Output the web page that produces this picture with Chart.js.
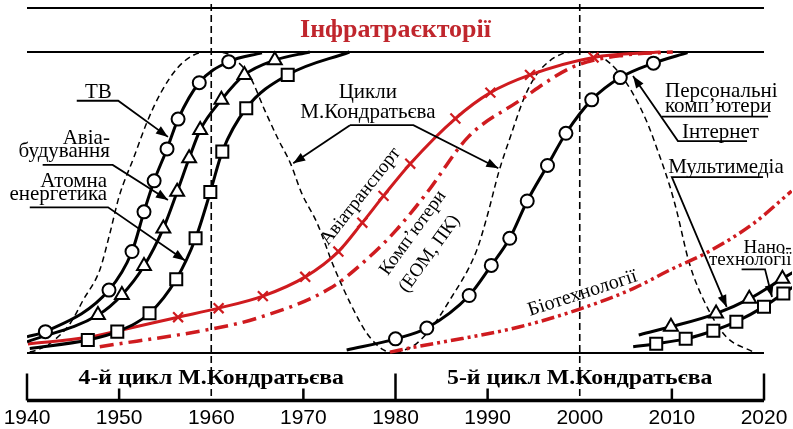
<!DOCTYPE html>
<html>
<head>
<meta charset="utf-8">
<script src="https://cdn.jsdelivr.net/npm/chart.js@4"></script>
<style>
  html, body { margin: 0; padding: 0; background: #fff; }
  #wrap { width: 793px; height: 429px; }
</style>
</head>
<body>
<div id="wrap"><canvas id="infraChart" width="793" height="429"></canvas></div>
<script>
// ---- data: [year, level %] ----
const cycle4 = [[1940.3, 0.3], [1941.1, 1.0], [1942.5, 3.2], [1944.7, 9.9], [1946.1, 17.6], [1947.9, 27.6], [1949.0, 39.8],
  [1950.0, 52.0], [1951.6, 65.0], [1953.0, 76.5], [1954.5, 86.3], [1956.3, 94.6], [1958.1, 99.0], [1959.5, 100],
  [1961.5, 99.7], [1962.4, 98.0], [1964.2, 91.8], [1965.8, 80.7], [1967.3, 70.8], [1968.6, 63.0], [1969.8, 53.2],
  [1971.5, 43.1], [1973.3, 28.7], [1975.1, 16.5], [1976.9, 6.5], [1978.7, 1.0], [1980.0, 0]];
const cycle5 = [[1980.0, 0], [1982.0, 2.5], [1983.7, 7.6], [1985.9, 17.6], [1988.8, 34.0], [1990.0, 46.0], [1991.2, 60.0],
  [1992.6, 73.0], [1994.0, 85.0], [1995.2, 92.0], [1996.4, 96.2], [1998.0, 99.3], [1999.5, 100], [2001.0, 100],
  [2003.3, 96.2], [2005.1, 89.6], [2007.2, 77.4], [2008.7, 65.2], [2009.8, 55.2], [2010.5, 47.5], [2011.9, 29.8],
  [2013.8, 15.4], [2015.9, 5.4], [2018.8, 0.4]];

const tv = [[1940.0, 5.4], [1942.0, 7.1], [1948.9, 20.9], [1951.4, 33.7], [1952.7, 46.9], [1953.8, 57.2], [1955.2, 67.8],
  [1956.4, 77.7], [1958.7, 89.8], [1961.9, 96.8], [1965.5, 99.7]];
const aviaBuild = [[1940.0, 3.7], [1947.7, 12.6], [1950.3, 19.3], [1952.7, 28.9], [1954.8, 41.4], [1956.3, 53.6],
  [1957.6, 64.7], [1958.8, 74.1], [1961.1, 84.1], [1963.6, 92.4], [1966.9, 97.3], [1970.7, 100]];
const nuclear = [[1940.3, 1.5], [1946.6, 4.3], [1949.8, 7.1], [1953.3, 13.2], [1956.2, 24.5], [1958.3, 38.1],
  [1959.9, 53.5], [1961.2, 66.9], [1963.8, 81.3], [1968.3, 92.4], [1975.0, 100]];
const aviaTransport = [[1940.1, 3.0], [1946.6, 5.2], [1949.8, 7.3], [1956.4, 11.9], [1960.8, 14.9], [1965.6, 18.9],
  [1970.2, 25.3], [1973.8, 33.7], [1976.4, 43.3], [1978.7, 52.2], [1981.6, 62.9], [1986.5, 77.9], [1990.3, 86.5],
  [1994.6, 92.4], [2001.5, 98.2], [2008.7, 100]];
const computers = [[1947.9, 2.1], [1959.9, 7.9], [1964.9, 11.5], [1972.9, 21.5], [1977.2, 32.0], [1980.1, 40.9],
  [1983.4, 53.2], [1987.9, 71.8], [1993.3, 83.5], [1999.3, 95.1], [2005.0, 99.0], [2010.1, 100]];
const personalPc = [[1974.7, 1.0], [1980.0, 4.7], [1983.4, 8.3], [1988.0, 19.1], [1990.4, 29.1], [1992.4, 38.1],
  [1994.3, 50.5], [1996.5, 62.3], [1998.5, 73.0], [2001.3, 84.1], [2004.4, 91.5], [2008.0, 96.3], [2011.7, 99.8]];
const biotech = [[1979.4, 0.3], [1982.3, 2.1], [1987.4, 4.9], [1993.5, 8.7], [2000.0, 14.6], [2005.8, 21.4],
  [2009.8, 27.6], [2013.7, 33.2], [2018.8, 42.9], [2023.0, 53.8]];
const multimedia = [[2006.4, 6.0], [2009.9, 8.7], [2014.8, 13.1], [2018.4, 18.0], [2022.0, 24.7], [2023.2, 26.9]];
const nano = [[2005.8, 2.1], [2008.3, 3.1], [2011.5, 4.7], [2014.5, 7.4], [2017.0, 10.4], [2020.0, 15.4],
  [2022.1, 19.8], [2023.2, 22.0]];

const tickYears = [1940, 1950, 1960, 1970, 1980, 1990, 2000, 2010, 2020];
const cycleBounds = [1940, 1980, 2020];
const cycleNames = ['4-й цикл М.Кондратьєва', '5-й цикл М.Кондратьєва'];
const dashedYears = [1960, 2000];
const chartTitle = 'Інфратраєкторії';

const RED = '#cf1b1f';
const SERIF = '"Liberation Serif", "Times New Roman", serif';

// text labels, placed in data units [year, level]
const notes = [
  { t: 'ТВ', at: [1946.3, 84.7], align: 'left' },
  { t: 'Авіа-', at: [1949.0, 69.4], align: 'right' },
  { t: 'будування', at: [1949.0, 65.0], align: 'right' },
  { t: 'Атомна', at: [1948.7, 55.2], align: 'right' },
  { t: 'енергетика', at: [1948.7, 50.8], align: 'right' },
  { t: 'Цикли', at: [1977.0, 84.6], align: 'center' },
  { t: 'М.Кондратьєва', at: [1977.0, 78.0], align: 'center' },
  { t: 'Персональні', at: [2009.25, 85.1], align: 'left' },
  { t: 'комп’ютери', at: [2009.25, 80.2], align: 'left' },
  { t: 'Інтернет', at: [2011.1, 71.3], align: 'left' },
  { t: 'Мультимедіа', at: [2009.6, 59.7], align: 'left' },
  { t: 'Нано-', at: [2023.0, 33.2], align: 'right', size: 19 },
  { t: 'технології', at: [2023.0, 29.2], align: 'right', size: 19 },
  { t: 'Авіатранспорт', at: [1976.2, 52.0], align: 'center', rot: -52, size: 19, mid: true },
  { t: 'Комп’ютери', at: [1981.9, 39.9], align: 'center', rot: -54, size: 19, mid: true },
  { t: '(ЕОМ, ПК)', at: [1983.7, 32.9], align: 'center', rot: -54, size: 19, mid: true },
  { t: 'Біотехнології', at: [2000.3, 19.8], align: 'center', rot: -18, size: 20, mid: true },
];

// leader lines, last point gets an arrowhead when arrow is set
const leaders = [
  { pts: [[1945.4, 83.8], [1949.9, 83.8], [1955.3, 71.8]], arrow: true },
  { pts: [[1941.7, 62.5], [1949.3, 62.5], [1955.3, 50.8]], arrow: true },
  { pts: [[1940.3, 48.4], [1948.8, 48.4], [1957.15, 30.7]], arrow: true },
  { pts: [[1975.06, 75.7], [1968.9, 63.0]], arrow: true },
  { pts: [[1975.06, 75.7], [1981.94, 75.7], [1991.16, 61.4]], arrow: true },
  { pts: [[2018.16, 70.4], [2010.66, 70.4], [2005.78, 92.0]], arrow: true },
  { pts: [[2008.93, 78.5], [2020.44, 78.5]] },
  { pts: [[2019.9, 58.4], [2010.0, 58.4], [2015.95, 15.3]], arrow: true },
  { pts: [[2017.57, 27.8], [2020.11, 27.8], [2020.87, 18.6]], arrow: true },
];

function segment(ctx, x1, y1, x2, y2) {
  ctx.beginPath(); ctx.moveTo(x1, y1); ctx.lineTo(x2, y2); ctx.stroke();
}

function arrowHead(ctx, fx, fy, tx, ty) {
  const a = Math.atan2(ty - fy, tx - fx), len = 12, half = 4.5;
  ctx.beginPath();
  ctx.moveTo(tx, ty);
  ctx.lineTo(tx - len * Math.cos(a) + half * Math.sin(a), ty - len * Math.sin(a) - half * Math.cos(a));
  ctx.lineTo(tx - len * Math.cos(a) - half * Math.sin(a), ty - len * Math.sin(a) + half * Math.cos(a));
  ctx.closePath(); ctx.fill();
}

const framePlugin = {
  id: 'frame',
  beforeDatasetsDraw(chart) {
    const { ctx, scales: { x, y } } = chart;
    const X = v => x.getPixelForValue(v), Y = v => y.getPixelForValue(v);
    const x0 = X(cycleBounds[0]), x1 = X(cycleBounds[cycleBounds.length - 1]);
    ctx.save();
    ctx.strokeStyle = '#000';
    ctx.lineWidth = 2;
    [y.max, 100, 0].forEach(v => segment(ctx, x0, Y(v) + (v === y.max ? 1 : 0), x1, Y(v) + (v === y.max ? 1 : 0)));
    // dashed decade lines
    ctx.lineWidth = 1.6;
    ctx.setLineDash([7, 4]);
    dashedYears.forEach(yr => segment(ctx, X(yr), 4, X(yr), Y(y.min)));
    ctx.setLineDash([]);
    // bottom time axis
    const base = Y(y.min) - 1.5;
    ctx.lineWidth = 3.5;
    segment(ctx, x0, base, x1, base);
    ctx.lineWidth = 2.5;
    tickYears.forEach(yr => {
      if (dashedYears.includes(yr)) return;
      const tall = cycleBounds.includes(yr);
      segment(ctx, X(yr), base, X(yr), tall ? base - 27 : base - 12);
    });
    ctx.fillStyle = '#000';
    ctx.font = '21px "Liberation Sans", Arial, sans-serif';
    ctx.textAlign = 'center';
    ctx.textBaseline = 'middle';
    tickYears.forEach(yr => ctx.fillText(String(yr), X(yr), base + 18));
    ctx.font = 'bold 22px ' + SERIF;
    ctx.textBaseline = 'alphabetic';
    cycleNames.forEach((n, i) => {
      ctx.save();
      ctx.translate((X(cycleBounds[i]) + X(cycleBounds[i + 1])) / 2, base - 17);
      ctx.scale(1.08, 1);
      ctx.fillText(n, 0, 0);
      ctx.restore();
    });
    // title
    ctx.fillStyle = '#c0262d';
    ctx.font = 'bold 26px ' + SERIF;
    ctx.fillText(chartTitle, X(1980), Y(105));
    ctx.restore();
  },
  afterDatasetsDraw(chart) {
    const { ctx, scales: { x, y } } = chart;
    const X = v => x.getPixelForValue(v), Y = v => y.getPixelForValue(v);
    ctx.save();
    ctx.strokeStyle = '#000';
    ctx.fillStyle = '#000';
    ctx.lineWidth = 1.8;
    leaders.forEach(l => {
      const p = l.pts.map(q => [X(q[0]), Y(q[1])]);
      ctx.beginPath();
      p.forEach((q, i) => i ? ctx.lineTo(q[0], q[1]) : ctx.moveTo(q[0], q[1]));
      ctx.stroke();
      if (l.arrow) {
        const a = p[p.length - 2], b = p[p.length - 1];
        arrowHead(ctx, a[0], a[1], b[0], b[1]);
      }
    });
    notes.forEach(n => {
      ctx.save();
      ctx.font = (n.size || 21) + 'px ' + SERIF;
      ctx.textAlign = n.align;
      ctx.textBaseline = n.mid ? 'middle' : 'alphabetic';
      ctx.translate(X(n.at[0]), Y(n.at[1]));
      if (n.rot) ctx.rotate(n.rot * Math.PI / 180);
      ctx.fillText(n.t, 0, 0);
      ctx.restore();
    });
    ctx.restore();
  }
};

// marker on every inner point, none on the curve ends
const inner = (r, from = 1) => c => (c.dataIndex < from || c.dataIndex === c.dataset.data.length - 1) ? 0 : r;

function curve(label, data, opt) {
  return Object.assign({
    label, data,
    borderColor: '#000', borderWidth: 3, fill: false,
    cubicInterpolationMode: 'monotone',
    pointRadius: 0, pointBackgroundColor: '#fff', pointBorderColor: '#000', pointBorderWidth: 2,
  }, opt);
}

new Chart(document.getElementById('infraChart'), {
  type: 'line',
  data: {
    datasets: [
      curve('ТВ', tv, { pointStyle: 'circle', pointRadius: inner(6.5) }),
      curve('Авіабудування', aviaBuild, { pointStyle: 'triangle', pointRadius: inner(8) }),
      curve('Атомна енергетика', nuclear, { pointStyle: 'rect', pointRadius: inner(8.5) }),
      curve('Персональні комп’ютери', personalPc, { pointStyle: 'circle', pointRadius: inner(6.5) }),
      curve('Мультимедіа', multimedia, { pointStyle: 'triangle', pointRadius: inner(8) }),
      curve('Нанотехнології', nano, { pointStyle: 'rect', pointRadius: inner(8.5) }),
      curve('Авіатранспорт', aviaTransport, {
        borderColor: RED, pointStyle: 'crossRot', pointRadius: inner(7, 3), pointBorderColor: RED, pointBorderWidth: 2.2,
      }),
      curve('Комп’ютери (ЕОМ, ПК)', computers, { borderColor: RED, borderWidth: 3.5, borderDash: [14, 6, 3, 6] }),
      curve('Біотехнології', biotech, { borderColor: RED, borderWidth: 3.5, borderDash: [13, 4, 3, 4, 3, 4] }),
      curve('4-й цикл', cycle4, { borderWidth: 1.5, borderDash: [6, 4] }),
      curve('5-й цикл', cycle5, { borderWidth: 1.5, borderDash: [6, 4] }),
    ],
  },
  options: {
    responsive: false,
    animation: false,
    devicePixelRatio: 1,
    layout: { padding: { left: 27, right: 1, top: 7, bottom: 27 } },
    plugins: { legend: { display: false }, tooltip: { enabled: false } },
    scales: {
      x: { type: 'linear', min: 1940, max: 2023.04, display: false },
      y: { type: 'linear', min: -16.28, max: 114.95, display: false },
    },
  },
  plugins: [framePlugin],
});
</script>
</body>
</html>
